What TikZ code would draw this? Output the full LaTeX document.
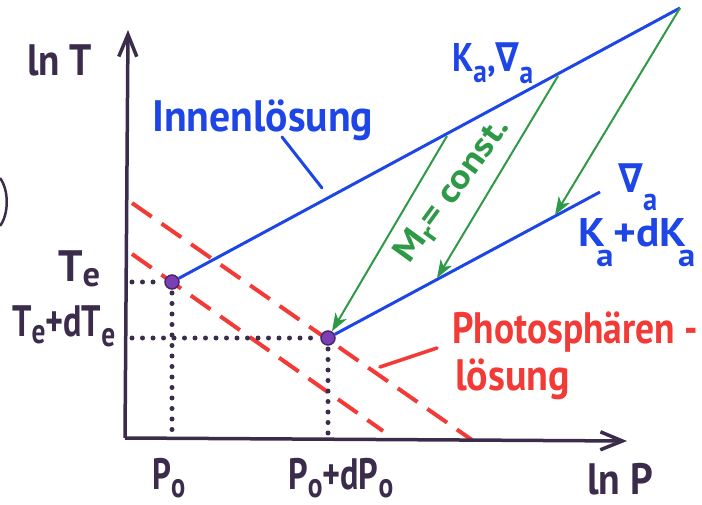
\documentclass[tikz,border=0pt]{standalone}
\usepackage{fontspec}
\setmainfont{PT Sans}
\newfontfamily\djv{DejaVu Sans}
\usetikzlibrary{arrows.meta}
\definecolor{ink}{HTML}{3B2C4C}
\definecolor{mblue}{HTML}{1E46E6}
\definecolor{mred}{HTML}{F23A36}
\definecolor{mgreen}{HTML}{2E9A48}
\definecolor{mpurple}{HTML}{7B3FB5}
\newcommand\lowsub[2][0.2em]{\raisebox{-#1}{\scalebox{0.8}{#2}}}
\newcommand\nab{{\djv\bfseries ∇}}
\newlength\fitlen
\newcommand\fitx[2]{\settowidth\fitlen{#2}\pgfmathsetmacro\fitr{#1/\fitlen}\scalebox{\fitr}[1]{#2}}
\begin{document}
\begin{tikzpicture}[x=1pt,y=-1pt,
  axis/.style={draw=ink,line width=3.5pt,-{Straight Barb[length=22pt,width=18pt]}},
  dotline/.style={draw=ink,line width=5pt,line cap=round,dash pattern=on 0pt off 10.5pt},
  reddash/.style={draw=mred,line width=4pt,dash pattern=on 24pt off 12pt},
  blueline/.style={draw=mblue,line width=3pt},
  greenarrow/.style={draw=mgreen,line width=2pt,-{Stealth[length=18pt,width=13pt,inset=5pt]}},
  lbl/.style={inner sep=0pt,anchor=base west,font=\fontsize{44}{46}\selectfont\bfseries},
  pt/.style={circle,draw=mpurple!60!black,fill=mpurple,line width=1.5pt,minimum size=14pt,inner sep=0pt}
]
\useasboundingbox (0,0) rectangle (702,505);

% coordinates
\coordinate (O) at (125,438);
\coordinate (Ytop) at (128,30);
\coordinate (Xend) at (627,441);
\coordinate (Ya) at (132,282);
\coordinate (Yb) at (132,338);
\coordinate (Xa) at (172,434);
\coordinate (Xb) at (328,434);
\coordinate (U1) at (680,8);
\coordinate (L1) at (600,192);
\coordinate (G2s) at (558,76);
\coordinate (G2e) at (437,278);
\coordinate (G3s) at (447,136);
\coordinate (G1e) at (555,215);
\coordinate (R1s) at (132,254);
\coordinate (R1e) at (383,431);
\coordinate (R2s) at (132,203);
\coordinate (R2e) at (472,440);
\coordinate (Ip1) at (282,137);
\coordinate (Ip2) at (322,188);
\coordinate (Rp1) at (380,367);
\coordinate (Rp2) at (437,348);

% red dashed photosphere lines
\draw[reddash] (R1s) -- (R1e);
\draw[reddash] (R2s) -- (R2e);

% dotted guides
\draw[dotline] (Ya) -- (162,282);
\draw[dotline] (172,293) -- (Xa);
\draw[dotline] (Yb) -- (318,338);
\draw[dotline] (328,349) -- (Xb);

% axes
\draw[axis] (O) -- (Ytop);
\draw[axis] (O) -- (Xend);

% blue lines
\node[pt] (A) at (172,282) {};
\node[pt] (B) at (328,338) {};
\draw[blueline] (A) -- (U1);
\draw[blueline] (B) -- (L1);

% green arrows
\draw[greenarrow] (U1) -- (G1e);
\draw[greenarrow] (G2s) -- (G2e);
\draw[greenarrow] (G3s) -- (B);

% pointer lines
\draw[blueline,line cap=round] (Ip1) -- (Ip2);
\draw[draw=mred,line width=3.5pt,line cap=round] (Rp1) -- (Rp2);

% partial bracket at left edge
\draw[ink,line width=2.5pt] (0,178) .. controls (9,190) and (9,214) .. (0,226);

% labels
\node[lbl,text=ink] (lnT) at (27,76) {\fitx{65pt}{ln T}};
\node[lbl,text=ink] (lnP) at (587,494) {\fitx{66pt}{ln P}};
\node[lbl,text=ink] (Po) at (152,489) {\fitx{33pt}{P\lowsub{o}}};
\node[lbl,text=ink] (PodPo) at (288,489) {\fitx{105pt}{P\lowsub{o}+dP\lowsub{o}}};
\node[lbl,text=ink] (Te) at (58,282) {\fitx{42pt}{T\lowsub[0.1em]{e}}};
\node[lbl,text=ink] (TedTe) at (12,337) {\fitx{103pt}{T\lowsub[0.15em]{e}+dT\lowsub[0.22em]{e}}};
\node[lbl,text=mblue] (inn) at (152,132) {\fitx{221pt}{Innenlösung}};
\node[lbl,text=mblue,font=\fontsize{40}{42}\selectfont\bfseries] (Ka) at (452,72) {\fitx{81pt}{K\lowsub[0.27em]{a},\nab\lowsub[0.3em]{a}}};
\node[lbl,text=mblue,font=\fontsize{40}{42}\selectfont\bfseries] (nb) at (618,193) {\fitx{39pt}{\nab\lowsub[0.45em]{a}}};
\node[lbl,text=mblue,font=\fontsize{40}{42}\selectfont\bfseries] (KdK) at (578,247) {\fitx{117pt}{K\kern-0.2em\lowsub[0.5em]{a}+dK\kern-0.2em\lowsub[0.5em]{a}}};
\node[lbl,text=mred] (ph1) at (452,343) {\fitx{246pt}{Photosphären -}};
\node[lbl,text=mred] (ph2) at (455,390) {\fitx{115pt}{lösung}};
\node[text=mgreen,inner sep=0pt,rotate=54,font=\fontsize{34}{36}\selectfont\bfseries] (mr) at (453,191) {\fitx{170pt}{M\lowsub[0.2em]{r}= const.}};
\end{tikzpicture}
\end{document}
